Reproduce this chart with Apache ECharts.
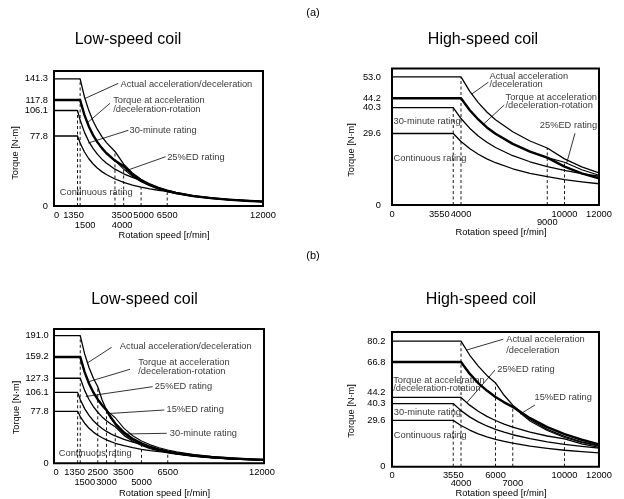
<!DOCTYPE html>
<html><head><meta charset="utf-8">
<script src="https://cdn.jsdelivr.net/npm/echarts@6/dist/echarts.min.js"></script>
<style>html,body{margin:0;padding:0;background:#fff}#c{width:624px;height:499px}</style>
</head><body><div id="c"></div>
<script>
// ---------- DATA ----------
// (a) Low-speed coil
const aLowSpeed    = [0,1350,1500,1750,2000,2250,2500,2750,3000,3500,4000,4500,5000,5500,6000,6500,7000,8000,9000,10000,11000,12000];
const aLowActual   = [141.3,141.3,141.3,121.1,106.0,94.2,84.8,77.1,70.7,60.6,46.4,36.6,29.7,24.5,20.6,17.6,15.1,11.6,9.2,7.4,6.1,5.2];
const aLowAccelRot = [117.8,117.8,117.8,101.0,88.4,78.5,70.7,64.3,58.9,50.5,44.2,34.9,28.3,23.4,19.6,16.7,14.4,11.0,8.7,7.1,5.8,4.9];
const aLowED25     = [117.8,117.8,117.8,101.0,88.4,78.5,70.7,64.3,58.9,50.5,41.0,33.0,27.0,22.5,19.0,16.2,14.0,10.8,8.6,7.0,5.8,4.8];
const aLowMin30    = [106.1,106.1,95.5,81.8,71.6,63.7,57.3,52.1,47.7,40.9,35.8,31.8,28.6,23.7,19.9,16.9,14.6,11.2,8.8,7.2,5.9,5.0];
const aLowCont     = [77.8,77.8,70.0,60.0,52.5,46.7,42.0,38.2,35.0,30.0,26.3,23.3,21.0,19.1,17.5,16.2,14.0,10.7,8.4,6.8,5.6,4.7];
const aLowDashSpeed = [1350,1500,3500,4000,5000,6500];
const aLowDashTop   = [106.1,141.3,60.6,46.4,21.0,16.2];
const aLowYTicks = [0,77.8,106.1,117.8,141.3];
const aLowXTicks = [0,1350,1500,3500,4000,5000,6500,12000];
const aLowXRow2  = [1500,4000];

// (a) High-speed coil
const aHighSpeed    = [0,3550,4000,4500,5000,5500,6000,7000,8000,9000,10000,11000,12000];
const aHighActual   = [53.0,53.0,53.0,47.1,42.4,38.5,35.3,30.3,26.5,23.6,19.1,15.8,13.3];
const aHighAccelRot = [44.2,44.2,44.2,39.3,35.4,32.1,29.5,25.3,22.1,19.6,15.9,13.1,11.0];
const aHighED25     = [44.2,44.2,44.2,39.3,35.4,32.1,29.5,25.3,22.1,19.6,17.7,14.6,12.3];
const aHighMin30    = [40.3,40.3,35.8,31.8,28.6,26.0,23.8,20.4,17.9,15.9,14.3,13.0,11.9];
const aHighCont     = [29.6,29.6,26.3,23.4,21.0,19.1,17.5,15.0,13.1,11.7,10.5,9.6,8.8];
const aHighDashSpeed = [3550,4000,9000,10000];
const aHighDashTop   = [40.3,53.0,23.6,17.7];
const aHighYTicks = [0,29.6,40.3,44.2,53.0];
const aHighXTicks = [0,3550,4000,9000,10000,12000];
const aHighXRow2  = [9000];

// (b) Low-speed coil
const bLowSpeed    = [0,1350,1500,1750,2000,2250,2500,2750,3000,3250,3500,4000,4500,5000,5500,6000,6500,7000,8000,9000,10000,11000,12000];
const bLowActual   = [191.0,191.0,191.0,163.7,143.3,127.3,114.6,94.7,79.6,67.8,58.5,44.8,35.4,28.7,23.7,19.9,17.0,14.6,11.2,8.8,7.2,5.9,5.0];
const bLowAccelRot = [159.2,159.2,159.2,136.5,119.4,106.1,95.5,86.8,79.6,68.5,59.5,46.0,36.5,29.8,24.7,20.8,17.8,15.3,11.8,9.3,7.6,6.3,5.3];
const bLowED15     = [159.2,159.2,159.2,136.5,119.4,106.1,95.5,86.8,79.6,73.5,68.2,52.2,41.3,33.4,27.6,23.2,19.8,17.1,13.1,10.3,8.4,6.9,5.8];
const bLowED25     = [127.3,127.3,127.3,109.1,95.5,84.9,76.4,69.4,63.7,58.8,54.6,41.8,33.0,26.7,22.1,18.6,15.8,13.6,10.5,8.2,6.7,5.5,4.6];
const bLowMin30    = [106.1,106.1,95.5,81.8,71.6,63.7,57.3,52.1,47.7,44.1,40.9,35.8,31.8,28.6,23.7,19.9,16.9,14.6,11.2,8.8,7.2,5.9,5.0];
const bLowCont     = [77.8,77.8,70.0,60.0,52.5,46.7,42.0,38.2,35.0,32.3,30.0,26.3,23.3,21.0,19.1,17.5,16.2,14.0,10.7,8.4,6.8,5.6,4.7];
const bLowDashSpeed = [1350,1500,2500,3000,3500,5000,6500];
const bLowDashTop   = [106.1,191.0,114.6,79.6,50.0,28.6,16.2];
const bLowYTicks = [0,77.8,106.1,127.3,159.2,191.0];
const bLowXTicks = [0,1350,1500,2500,3000,3500,5000,6500,12000];
const bLowXRow2  = [1500,3000,5000];

// (b) High-speed coil
const bHighSpeed    = [0,3550,4000,4500,5000,5500,6000,6500,7000,8000,9000,10000,11000,12000];
const bHighActual   = [80.2,80.2,80.2,71.3,64.2,58.3,53.5,45.6,39.3,30.1,23.8,19.3,15.9,13.4];
const bHighAccelRot = [66.8,66.8,66.8,59.4,53.4,48.6,44.5,41.1,38.2,31.0,25.3,20.8,17.2,14.3];
const bHighED15     = [66.8,66.8,66.8,59.4,53.4,48.6,44.5,41.1,38.2,29.2,23.1,18.7,15.5,13.0];
const bHighED25     = [44.2,44.2,44.2,39.3,35.4,32.1,29.5,27.2,25.3,22.1,19.6,17.7,14.6,12.3];
const bHighMin30    = [40.3,40.3,35.8,31.8,28.6,26.0,23.8,22.0,20.4,17.9,15.9,14.3,13.0,11.9];
const bHighCont     = [29.6,29.6,26.3,23.4,21.0,19.1,17.5,16.2,15.0,13.1,11.7,10.5,9.6,8.8];
const bHighDashSpeed = [3550,4000,6000,7000,10000];
const bHighDashTop   = [40.3,80.2,53.5,38.2,17.7];
const bHighYTicks = [0,29.6,40.3,44.2,66.8,80.2];
const bHighXTicks = [0,3550,4000,6000,7000,10000,12000];
const bHighXRow2  = [4000,7000];

// annotation texts, anchors [rpm, torque] and leader lines [[rpm,torque],[rpm,torque]]
const aLowNoteText = ['Actual acceleration/deceleration','Torque at acceleration\n/deceleration-rotation','30-minute rating','25%ED rating','Continuous rating'];
const aLowNoteAt   = [[3790,135.2],[3370,112.8],[4306,84.4],[6471,53.7],[304,14.8]];
const aLowLeaders  = [[[3692,136.3],[1780,119.5]],[[3215,114.1],[1912,92.4]],[[4266,84.1],[1969,70.0]],[[6413,54.8],[4134,39.2]]];

const aHighNoteText = ['Actual acceleration\n/deceleration','Torque at acceleration\n/deceleration-rotation','25%ED rating','30-minute rating','Continuous rating'];
const aHighNoteAt   = [[5623,51.5],[6551,43.0],[8539,33.1],[58,34.5],[58,19.3]];
const aHighLeaders  = [[[5583,50.8],[4620,45.9]],[[6510,41.4],[5293,33.4]],[[10609,29.7],[10128,17.4]]];

const bLowNoteText = ['Actual acceleration/deceleration','Torque at acceleration\n/deceleration-rotation','25%ED rating','15%ED rating','30-minute rating','Continuous rating'];
const bLowNoteAt   = [[3731,174.5],[4783,143.8],[5731,115.7],[6400,81.3],[6589,44.9],[246,15.0]];
const bLowLeaders  = [[[3297,173.7],[1900,150.0]],[[4343,140.7],[1960,122.0]],[[5640,114.7],[1811,100.0]],[[6303,79.8],[3200,74.6]],[[6440,44.9],[4154,43.9]]];

const bHighNoteText = ['Actual acceleration\n/deceleration','25%ED rating','Torque at acceleration\n/deceleration-rotation','15%ED rating','30-minute rating','Continuous rating'];
const bHighNoteAt   = [[6591,77.7],[6070,62.2],[41,52.4],[8232,44.3],[75,34.5],[75,20.2]];
const bHighLeaders  = [[[6452,81.4],[4330,74.5]],[[5971,61.7],[4330,40.8]],[[8290,39.4],[7420,33.5]]];

// ---------- LAYOUT / STYLE ----------
const FONT = "'Liberation Sans', Arial, Helvetica, sans-serif";
const FS = 9.3;
const THIN = 1.3, THICK = 2.4;

const panels = [
  { grid:{left:54, top:71, width:209, height:135}, ymax:150, speed:aLowSpeed,
    curves:[[aLowActual,THIN],[aLowAccelRot,THICK],[aLowED25,1.1],[aLowMin30,THIN],[aLowCont,THIN]],
    dashS:aLowDashSpeed, dashT:aLowDashTop, yT:aLowYTicks, xT:aLowXTicks, xR2:aLowXRow2,
    xOff:{0:2.5,1350:-4,1500:5,3500:7,4000:-1.5,5000:2.5}, yOff:{}, ymargin:6, xmargin:4, xlh:10, nameGap:22,
    notes:aLowNoteText, at:aLowNoteAt, leaders:aLowLeaders, lh:[9,9,9,9,9] },
  { grid:{left:392, top:68.5, width:207, height:136.5}, ymax:56.5, speed:aHighSpeed,
    curves:[[aHighActual,THIN],[aHighAccelRot,THICK],[aHighED25,1.1],[aHighMin30,THIN],[aHighCont,THIN]],
    dashS:aHighDashSpeed, dashT:aHighDashTop, yT:aHighYTicks, xT:aHighXTicks, xR2:aHighXRow2,
    xOff:{3550:-14}, yOff:{}, ymargin:11, xmargin:5, xlh:8.4, nameGap:22.5,
    notes:aHighNoteText, at:aHighNoteAt, leaders:aHighLeaders, lh:[7.8,7.8,9,9,9] },
  { grid:{left:54, top:329, width:210, height:134.3}, ymax:201, speed:bLowSpeed,
    curves:[[bLowActual,THIN],[bLowAccelRot,THICK],[bLowED15,1.1],[bLowED25,THIN],[bLowMin30,THIN],[bLowCont,THIN]],
    dashS:bLowDashSpeed, dashT:bLowDashTop, yT:bLowYTicks, xT:bLowXTicks, xR2:bLowXRow2,
    xOff:{0:2,1350:-3,1500:4.5,3500:8,12000:-2}, yOff:{}, ymargin:5.3, xmargin:4.4, xlh:10, nameGap:23,
    notes:bLowNoteText, at:bLowNoteAt, leaders:bLowLeaders, lh:[9,9,9,9,9,9] },
  { grid:{left:392, top:332, width:207, height:134.7}, ymax:86, speed:bHighSpeed,
    curves:[[bHighActual,THIN],[bHighAccelRot,THICK],[bHighED15,1.1],[bHighED25,THIN],[bHighMin30,THIN],[bHighCont,THIN]],
    dashS:bHighDashSpeed, dashT:bHighDashTop, yT:bHighYTicks, xT:bHighXTicks, xR2:bHighXRow2,
    xOff:{}, yOff:{44.2:-5}, ymargin:6.7, xmargin:5.2, xlh:7.6, nameGap:20.5,
    notes:bHighNoteText, at:bHighNoteAt, leaders:bHighLeaders, lh:[11.3,9,8,9,9,9] }
];

const grids = [], xAxes = [], yAxes = [], series = [];
panels.forEach((p, i) => {
  grids.push(Object.assign({show:true, borderColor:'#000', borderWidth:2, backgroundColor:'transparent'}, p.grid));
  // x axis labels
  const xRich = {};
  p.xT.forEach((v, k) => {
    const off = p.xOff[v] || 0;
    xRich['k'+k] = {fontSize:FS, fontFamily:FONT, color:'#000', lineHeight:p.xlh,
      padding: off >= 0 ? [0,0,0,2*off] : [0,-2*off,0,0]};
  });
  xAxes.push({
    type:'value', gridIndex:i, min:0, max:12000,
    axisLine:{show:false}, axisTick:{show:false}, splitLine:{show:false},
    axisLabel:{
      customValues:p.xT, margin:p.xmargin, fontSize:FS, fontFamily:FONT, color:'#000', lineHeight:p.xlh,
      formatter:(v) => { const k = p.xT.indexOf(v); const s = '{k'+k+'|'+v+'}'; return p.xR2.indexOf(v) >= 0 ? '\n'+s : s; },
      rich:xRich
    },
    name:'Rotation speed [r/min]', nameLocation:'middle', nameGap:p.nameGap,
    nameTextStyle:{fontSize:FS, fontFamily:FONT, color:'#000', padding:[0,0,0,11]}
  });
  const yRich = {};
  p.yT.forEach((v, k) => {
    const off = p.yOff[v] || 0;
    yRich['y'+k] = {fontSize:FS, fontFamily:FONT, color:'#000',
      padding: off <= 0 ? [0,0,-2*off,0] : [2*off,0,0,0]};
  });
  yAxes.push({
    type:'value', gridIndex:i, min:0, max:p.ymax,
    axisLine:{show:false}, axisTick:{show:false}, splitLine:{show:false},
    axisLabel:{
      customValues:p.yT, margin:p.ymargin, fontSize:FS, fontFamily:FONT, color:'#000',
      formatter:(v) => { const k = p.yT.indexOf(v); return '{y'+k+'|'+(v === 0 ? '0' : v.toFixed(1))+'}'; },
      rich:yRich
    }
  });
  // dashed guide lines
  p.dashS.forEach((s, k) => {
    series.push({type:'line', xAxisIndex:i, yAxisIndex:i, data:[[s,0],[s,p.dashT[k]]],
      symbol:'none', silent:true, z:1,
      lineStyle:{color:'#000', width:0.9, type:[3,2.5]}});
  });
  // curves
  p.curves.forEach(([vals, w]) => {
    series.push({type:'line', xAxisIndex:i, yAxisIndex:i,
      data:p.speed.map((s, k) => [s, vals[k]]),
      symbol:'none', silent:true, z:3,
      lineStyle:{color:'#000', width:w, join:'round'}});
  });
  // leader lines
  p.leaders.forEach((seg) => {
    series.push({type:'line', xAxisIndex:i, yAxisIndex:i, data:seg, symbol:'none', silent:true, z:3,
      clip:false, lineStyle:{color:'#000', width:0.8}});
  });
  // annotation texts
  series.push({type:'scatter', xAxisIndex:i, yAxisIndex:i, symbol:'circle', symbolSize:1, silent:true, z:4,
    clip:false, itemStyle:{color:'rgba(0,0,0,0)'},
    label:{show:true, position:'right', distance:0, fontSize:FS, fontFamily:FONT, color:'#000', align:'left'},
    data:p.notes.map((t, k) => ({value:p.at[k], label:{formatter:t, lineHeight:p.lh[k]}}))});
});

const txt = (x, y, text, size, rot) => ({type:'text', x:x, y:y, rotation:rot || 0, silent:true,
  style:{text:text, fontSize:size, fontFamily:FONT, fill:'#000', align:'center', verticalAlign:'middle'}});

const chart = echarts.init(document.getElementById('c'), null, {renderer:'canvas'});
chart.setOption({
  animation:false,
  backgroundColor:'#fff',
  grid:grids, xAxis:xAxes, yAxis:yAxes, series:series,
  graphic:[
    txt(313, 13, '(a)', 11),
    txt(313, 256, '(b)', 11),
    txt(128, 40, 'Low-speed coil', 16),
    txt(483, 40, 'High-speed coil', 16),
    txt(144.5, 299.5, 'Low-speed coil', 16),
    txt(481, 300, 'High-speed coil', 16),
    txt(15, 153, 'Torque [N·m]', FS, Math.PI/2),
    txt(351, 150, 'Torque [N·m]', FS, Math.PI/2),
    txt(16, 407.5, 'Torque [N·m]', FS, Math.PI/2),
    txt(351, 411, 'Torque [N·m]', FS, Math.PI/2)
  ]
});
</script></body></html>
